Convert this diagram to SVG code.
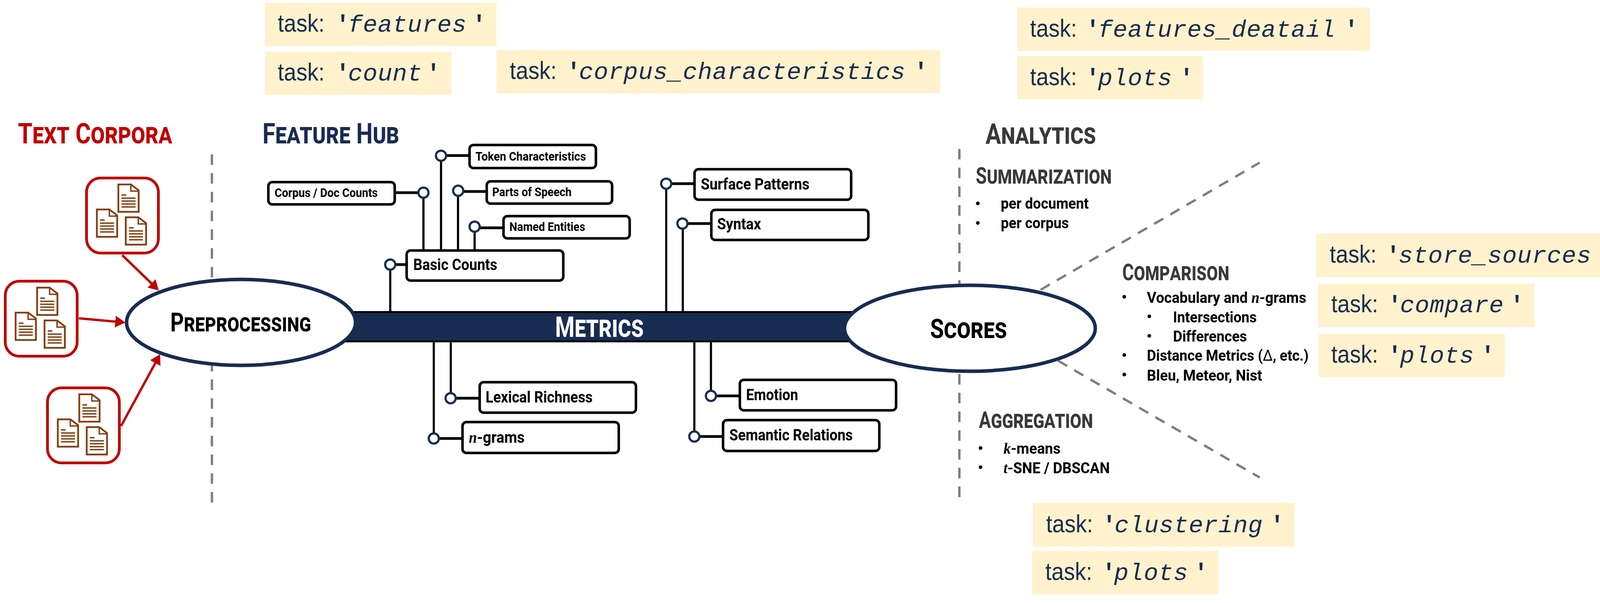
<svg xmlns="http://www.w3.org/2000/svg" width="4156" height="1543" viewBox="0 0 4156 1543">
<style>
text{font-family:Roboto,"Liberation Sans",sans-serif;font-weight:700;fill:#000}
.t{font-size:73px}.ts{font-size:74px;font-variant:small-caps}
.s{font-size:59px}.ss{font-size:63px;font-variant:small-caps}
.m{font-size:73px}.ms{font-size:77px;font-variant:small-caps}
.red{fill:#c00000}.navy{fill:#182c52}.gray{fill:#3b3838}
text.white{fill:#fff}
.sm{font-size:31px}.lg{font-size:40px}.li{font-size:39px}
.gap{font-family:"Liberation Serif",serif;font-style:italic}
.dl{font-weight:400}
.b{fill:#fff;stroke:#000;stroke-width:6.5}
.dash{stroke:#7f7f7f;stroke-width:6;stroke-dasharray:27 21;fill:none}
.v{stroke:#000;stroke-width:5.5;fill:none}
.h{stroke:#000;stroke-width:7;fill:none}
.c{fill:#fff;stroke:#182c52;stroke-width:5.5}
.ar{stroke:#c00000;stroke-width:6;fill:none;marker-end:url(#ah)}
.cb{fill:#fff;stroke:#c00000;stroke-width:7}
.task{fill:#fff2cc}
.tk{font-family:"Liberation Sans",Arial,sans-serif;font-weight:400;font-size:63px;fill:#182c52}
.mn{font-family:"Liberation Mono",monospace;font-style:italic;font-size:62px;font-weight:400;fill:#182c52;letter-spacing:.8px}
.q{font-family:"Liberation Mono",monospace;font-size:62px;font-weight:700;fill:#182c52}
.el{fill:#fff;stroke:#182c52;stroke-width:9}
</style>
<defs>
<marker id="ah" viewBox="0 0 26 30" refX="12" refY="15" markerUnits="userSpaceOnUse" markerWidth="26" markerHeight="30" orient="auto"><path d="M0 0L26 15L0 30Z" fill="#c00000"/></marker>
<g id="doc">
<path d="M2 2H34L54 17V72H2Z" fill="#fff" stroke="#843c0c" stroke-width="4.5"/>
<path d="M34 2V19H54" fill="none" stroke="#843c0c" stroke-width="3.5"/>
<path d="M10 29H22M10 37H46M10 44.500H46M10 52H46M10 59.500H46" stroke="#843c0c" stroke-width="3.500" fill="none"/>
</g>
<g id="docs">
<rect class="cb" x="3.500" y="3.500" width="184" height="192" rx="36"/>
<use href="#doc" x="83" y="18"/><use href="#doc" x="28" y="82"/><use href="#doc" x="102" y="102"/>
</g>
</defs>
<rect width="4156" height="1543" fill="#fff"/>

<g id="dividers">
<path class="dash" d="M542.500 395V1290"/>
<path class="dash" d="M2456 381V1276"/>
<path class="dash" d="M2664 741.500L3225 416"/>
<path class="dash" d="M2708.500 923L3225 1222"/>
</g>

<g id="connectors">
<path class="ar" d="M313 653L396.400 733.500"/>
<path class="ar" d="M202 814.500L307 824"/>
<path class="ar" d="M310 1090L403.300 918.500"/>
<path class="v" d="M1084 493V640M1129 398V640M1172.500 490V640M1215 583V640M999 677V798M1705.500 470V798M1748 572V798"/>
<path class="v" d="M1154 876V1019M1110.500 876V1122M1820 876V1013M1777.500 876V1117"/>
<path class="h" d="M1014 493H1084M1129 398H1199M1173 490H1243M1215 583H1286M999 677H1038M1705 470H1775M1748 572H1818M1154 1019H1225M1110 1122H1181M1820 1013H1891M1777 1117H1848"/>
</g>

<g id="metrics"><rect x="860" y="798.500" width="1340" height="75" fill="#182c52" stroke="#000" stroke-width="5"/>
<text class="white" x="1421" y="862" textLength="227" lengthAdjust="spacingAndGlyphs"><tspan class="m">M</tspan><tspan class="ms">etrics</tspan></text></g>

<g id="corpora-1"><use href="#docs" x="218" y="452"/></g>
<g id="corpora-2"><use href="#docs" x="10" y="716"/></g>
<g id="corpora-3"><use href="#docs" x="118" y="989"/></g>

<g id="preprocessing"><ellipse class="el" cx="617" cy="825" rx="293" ry="110"/>
<text x="436" y="848" textLength="360" lengthAdjust="spacingAndGlyphs"><tspan style="font-size:67px">P</tspan><tspan style="font-size:64px;font-variant:small-caps">reprocessing</tspan></text></g>
<g id="scores"><ellipse class="el" cx="2483" cy="840" rx="321" ry="110"/>
<text x="2381" y="865" textLength="197" lengthAdjust="spacingAndGlyphs"><tspan style="font-size:69px">S</tspan><tspan style="font-size:71px;font-variant:small-caps">cores</tspan></text></g>

<g id="title-corpora"><text class="red" x="46" y="367" textLength="395" lengthAdjust="spacingAndGlyphs"><tspan class="t">T</tspan><tspan class="ts">ext </tspan><tspan class="t">C</tspan><tspan class="ts">orpora</tspan></text></g>
<g id="title-hub"><text class="navy" x="672" y="367" textLength="350" lengthAdjust="spacingAndGlyphs"><tspan class="t">F</tspan><tspan class="ts">eature </tspan><tspan class="t">H</tspan><tspan class="ts">ub</tspan></text></g>
<g id="title-analytics"><text class="gray" x="2523" y="368" textLength="283" lengthAdjust="spacingAndGlyphs"><tspan class="t">A</tspan><tspan class="ts">nalytics</tspan></text></g>

<g id="box-corpus"><rect class="b" x="687" y="466" width="323.500" height="57" rx="10"/><text class="sm" x="703" y="504" textLength="264" lengthAdjust="spacingAndGlyphs">Corpus / Doc Counts</text></g>
<g id="box-token"><rect class="b" x="1202" y="371" width="323.500" height="59" rx="10"/><text class="sm" x="1217" y="411" textLength="283" lengthAdjust="spacingAndGlyphs">Token Characteristics</text></g>
<g id="box-pos"><rect class="b" x="1246" y="464" width="321" height="57" rx="10"/><text class="sm" x="1260" y="502" textLength="203" lengthAdjust="spacingAndGlyphs">Parts of Speech</text></g>
<g id="box-ner"><rect class="b" x="1289" y="553" width="323" height="57" rx="10"/><text class="sm" x="1304" y="591" textLength="194" lengthAdjust="spacingAndGlyphs">Named Entities</text></g>
<g id="box-basic"><rect class="b" x="1041" y="641" width="401" height="77" rx="10"/><text class="lg" x="1058" y="691" textLength="215" lengthAdjust="spacingAndGlyphs">Basic Counts</text></g>
<g id="box-surface"><rect class="b" x="1778" y="433" width="401" height="78" rx="10"/><text class="lg" x="1794" y="485" textLength="278" lengthAdjust="spacingAndGlyphs">Surface Patterns</text></g>
<g id="box-syntax"><rect class="b" x="1821" y="537" width="402" height="77" rx="10"/><text class="lg" x="1836" y="587" textLength="112" lengthAdjust="spacingAndGlyphs">Syntax</text></g>
<g id="box-lexical"><rect class="b" x="1228" y="978" width="400" height="78" rx="10"/><text class="lg" x="1243" y="1030" textLength="274" lengthAdjust="spacingAndGlyphs">Lexical Richness</text></g>
<g id="box-ngrams"><rect class="b" x="1184" y="1080" width="400" height="79" rx="10"/><text class="lg" x="1200" y="1133" textLength="143" lengthAdjust="spacingAndGlyphs"><tspan class="gap">n</tspan>-grams</text></g>
<g id="box-emotion"><rect class="b" x="1894" y="972" width="400" height="78" rx="10"/><text class="lg" x="1910" y="1024" textLength="133" lengthAdjust="spacingAndGlyphs">Emotion</text></g>
<g id="box-semantic"><rect class="b" x="1851" y="1075" width="400" height="79" rx="10"/><text class="lg" x="1867" y="1127" textLength="316" lengthAdjust="spacingAndGlyphs">Semantic Relations</text></g>

<g id="dots">
<circle class="c" cx="1084" cy="493" r="13"/><circle class="c" cx="1129" cy="398.500" r="13"/><circle class="c" cx="1173" cy="488" r="13"/><circle class="c" cx="1215" cy="580" r="13"/><circle class="c" cx="999" cy="677" r="13"/><circle class="c" cx="1705.500" cy="470" r="13"/><circle class="c" cx="1747" cy="572" r="13"/><circle class="c" cx="1153.600" cy="1019" r="13"/><circle class="c" cx="1110.500" cy="1122" r="13"/><circle class="c" cx="1820" cy="1013" r="13"/><circle class="c" cx="1777.500" cy="1117" r="13"/>
</g>

<g id="summarization">
<text class="gray" x="2498" y="470" textLength="348" lengthAdjust="spacingAndGlyphs"><tspan class="s">S</tspan><tspan class="ss">ummarization</tspan></text>
<text class="li" x="2503" y="535" text-anchor="middle">•</text><text class="li" x="2562" y="534" textLength="225" lengthAdjust="spacingAndGlyphs">per document</text>
<text class="li" x="2503" y="585" text-anchor="middle">•</text><text class="li" x="2562" y="584" textLength="174" lengthAdjust="spacingAndGlyphs">per corpus</text>
</g>
<g id="comparison">
<text class="gray" x="2873" y="717" textLength="274" lengthAdjust="spacingAndGlyphs"><tspan class="s">C</tspan><tspan class="ss">omparison</tspan></text>
<text class="li" x="2878" y="774" text-anchor="middle">•</text><text class="li" x="2936" y="775" textLength="408" lengthAdjust="spacingAndGlyphs">Vocabulary and <tspan class="gap">n</tspan>-grams</text>
<text class="li" x="2942" y="824" text-anchor="middle">•</text><text class="li" x="3003" y="825" textLength="214" lengthAdjust="spacingAndGlyphs">Intersections</text>
<text class="li" x="2942" y="874" text-anchor="middle">•</text><text class="li" x="3003" y="874" textLength="189" lengthAdjust="spacingAndGlyphs">Differences</text>
<text class="li" x="2878" y="923" text-anchor="middle">•</text><text class="li" x="2936" y="923" textLength="414" lengthAdjust="spacingAndGlyphs">Distance Metrics (<tspan class="dl">Δ</tspan>, etc.)</text>
<text class="li" x="2878" y="973" text-anchor="middle">•</text><text class="li" x="2936" y="974" textLength="295" lengthAdjust="spacingAndGlyphs">Bleu, Meteor, Nist</text>
</g>
<g id="aggregation">
<text class="gray" x="2506" y="1095" textLength="292" lengthAdjust="spacingAndGlyphs"><tspan class="s">A</tspan><tspan class="ss">ggregation</tspan></text>
<text class="li" x="2510" y="1161" text-anchor="middle">•</text><text class="li" x="2569" y="1161" textLength="146" lengthAdjust="spacingAndGlyphs"><tspan class="gap">k</tspan>-means</text>
<text class="li" x="2510" y="1210" text-anchor="middle">•</text><text class="li" x="2569" y="1211" textLength="272" lengthAdjust="spacingAndGlyphs"><tspan class="gap">t</tspan>-SNE / DBSCAN</text>
</g>

<g id="task-features"><rect class="task" x="678" y="7" width="593" height="111"/><text class="tk" x="711" y="81"><tspan textLength="120" lengthAdjust="spacingAndGlyphs">task:</tspan><tspan class="q" x="859">'</tspan><tspan class="mn" x="891">features</tspan><tspan class="q" x="1208">'</tspan></text></g>
<g id="task-count"><rect class="task" x="678" y="132" width="477.500" height="111"/><text class="tk" x="711" y="206"><tspan textLength="120" lengthAdjust="spacingAndGlyphs">task:</tspan><tspan class="q" x="859">'</tspan><tspan class="mn" x="891">count</tspan><tspan class="q" x="1091">'</tspan></text></g>
<g id="task-corpus"><rect class="task" x="1271" y="128.500" width="1136" height="110.500"/><text class="tk" x="1305" y="201.500"><tspan textLength="120" lengthAdjust="spacingAndGlyphs">task:</tspan><tspan class="q" x="1450">'</tspan><tspan class="mn" x="1482">corpus_characteristics</tspan><tspan class="q" x="2339">'</tspan></text></g>
<g id="task-features-detail"><rect class="task" x="2604" y="19" width="903" height="111"/><text class="tk" x="2637" y="94"><tspan textLength="120" lengthAdjust="spacingAndGlyphs">task:</tspan><tspan class="q" x="2779">'</tspan><tspan class="mn" x="2811">features_deatail</tspan><tspan class="q" x="3441">'</tspan></text></g>
<g id="task-plots-1"><rect class="task" x="2604" y="143" width="476" height="111"/><text class="tk" x="2637" y="218"><tspan textLength="120" lengthAdjust="spacingAndGlyphs">task:</tspan><tspan class="q" x="2779">'</tspan><tspan class="mn" x="2811">plots</tspan><tspan class="q" x="3019">'</tspan></text></g>
<g id="task-store"><rect class="task" x="3369" y="597" width="787" height="112"/><text class="tk" x="3404" y="672"><tspan textLength="120" lengthAdjust="spacingAndGlyphs">task:</tspan><tspan class="q" x="3548">'</tspan><tspan class="mn" x="3580">store_sources</tspan><tspan class="q" x="4090">'</tspan></text></g>
<g id="task-compare"><rect class="task" x="3374" y="726" width="554" height="111"/><text class="tk" x="3408" y="799"><tspan textLength="120" lengthAdjust="spacingAndGlyphs">task:</tspan><tspan class="q" x="3552">'</tspan><tspan class="mn" x="3584">compare</tspan><tspan class="q" x="3865">'</tspan></text></g>
<g id="task-plots-2"><rect class="task" x="3375" y="854" width="477" height="111"/><text class="tk" x="3408" y="928"><tspan textLength="120" lengthAdjust="spacingAndGlyphs">task:</tspan><tspan class="q" x="3552">'</tspan><tspan class="mn" x="3584">plots</tspan><tspan class="q" x="3790">'</tspan></text></g>
<g id="task-clustering"><rect class="task" x="2644" y="1287" width="670" height="112"/><text class="tk" x="2678" y="1362"><tspan textLength="120" lengthAdjust="spacingAndGlyphs">task:</tspan><tspan class="q" x="2821">'</tspan><tspan class="mn" x="2853">clustering</tspan><tspan class="q" x="3251">'</tspan></text></g>
<g id="task-plots-3"><rect class="task" x="2642" y="1409" width="477" height="112"/><text class="tk" x="2676" y="1484"><tspan textLength="120" lengthAdjust="spacingAndGlyphs">task:</tspan><tspan class="q" x="2820">'</tspan><tspan class="mn" x="2852">plots</tspan><tspan class="q" x="3056">'</tspan></text></g>
</svg>
